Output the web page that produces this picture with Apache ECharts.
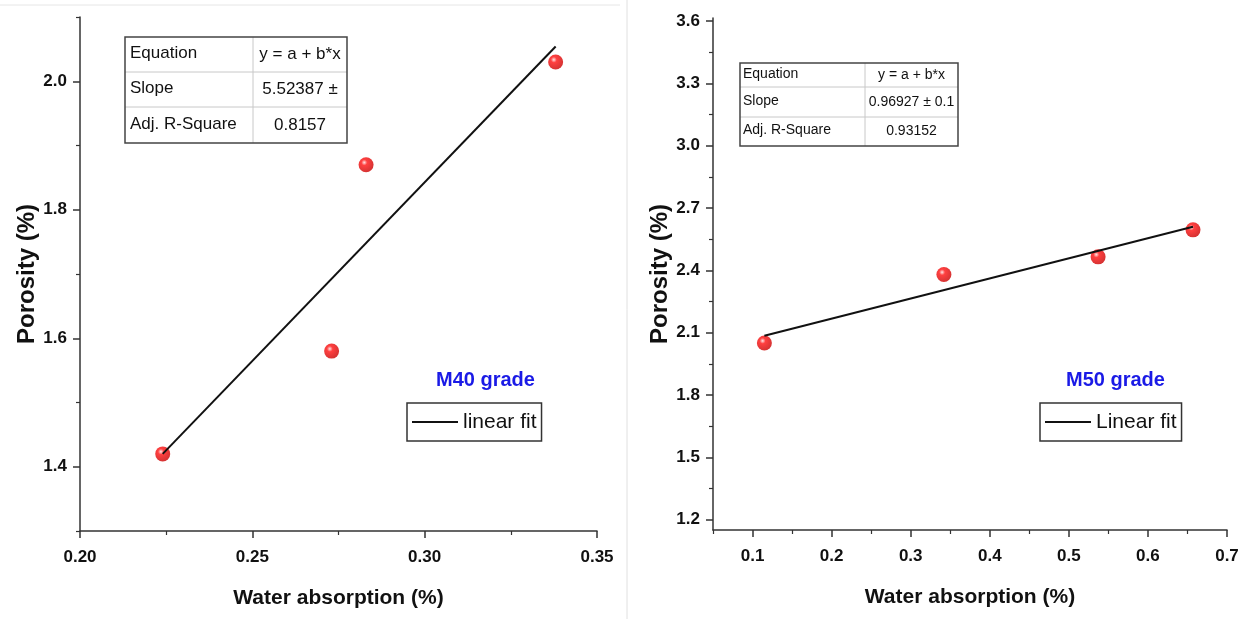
<!DOCTYPE html>
<html>
<head>
<meta charset="utf-8">
<script src="https://cdn.jsdelivr.net/npm/echarts@6/dist/echarts.min.js"></script>
<style>
html,body{margin:0;padding:0;background:#fff;}
#chart{width:1245px;height:619px;}
</style>
</head>
<body>
<div id="chart"></div>
<script>
// ---------- data ----------
const m40X = [0.224, 0.273, 0.283, 0.338];
const m40Y = [1.42, 1.58, 1.87, 2.03];
const m40FitX = [0.224, 0.338];
const m40FitY = [1.42, 2.054];

const m50X = [0.115, 0.342, 0.537, 0.657];
const m50Y = [2.05, 2.38, 2.465, 2.595];
const m50FitX = [0.115, 0.657];
const m50FitY = [2.085, 2.61];

const m40XRange = [0.20, 0.35];
const m40YRange = [1.30, 2.10];
const m50XRange = [0.05, 0.70];
const m50YRange = [1.15, 3.615];

const m40XTicks = [0.20, 0.25, 0.30, 0.35];
const m40XMinor = [0.225, 0.275, 0.325];
const m40YTicks = [1.4, 1.6, 1.8, 2.0];
const m40YMinor = [1.3, 1.5, 1.7, 1.9, 2.1];

const m50XTicks = [0.1, 0.2, 0.3, 0.4, 0.5, 0.6, 0.7];
const m50XMinor = [0.05, 0.15, 0.25, 0.35, 0.45, 0.55, 0.65];
const m50YTicks = [1.2, 1.5, 1.8, 2.1, 2.4, 2.7, 3.0, 3.3, 3.6];
const m50YMinor = [1.35, 1.65, 1.95, 2.25, 2.55, 2.85, 3.15, 3.45];

const tableRows = ['Equation', 'Slope', 'Adj. R-Square'];
const m40Table = ['y = a + b*x', '5.52387 ±', '0.8157'];
const m50Table = ['y = a + b*x', '0.96927 ± 0.1', '0.93152'];

const xName = 'Water absorption (%)';
const yName = 'Porosity (%)';
const m40Label = 'M40 grade';
const m50Label = 'M50 grade';
const m40FitName = 'linear fit';
const m50FitName = 'Linear fit';

// ---------- styling helpers ----------
const FONT = "'Liberation Sans', Arial, sans-serif";
const AXC = '#333';

function zip(a, b) { return a.map((v, i) => [v, b[i]]); }

function mainX(grid, range, ticks, dec) {
  return {
    type: 'value', gridIndex: grid, min: range[0], max: range[1],
    splitLine: {show: false},
    axisLine: {show: true, onZero: false, lineStyle: {color: AXC, width: 1.5}},
    axisTick: {show: true, length: 7, customValues: ticks, lineStyle: {color: AXC, width: 1.5}},
    axisLabel: {customValues: ticks, margin: 18, fontFamily: FONT, fontWeight: 'bold', fontSize: 17, color: '#111',
      formatter: v => Number(v).toFixed(dec)},
    name: xName, nameLocation: 'middle', nameGap: 57,
    nameTextStyle: {fontFamily: FONT, fontWeight: 'bold', fontSize: 21, color: '#111'}
  };
}
function mainY(grid, range, ticks, dec) {
  return {
    type: 'value', gridIndex: grid, min: range[0], max: range[1],
    splitLine: {show: false},
    axisLine: {show: true, onZero: false, lineStyle: {color: AXC, width: 1.5}},
    axisTick: {show: true, length: 7, customValues: ticks, lineStyle: {color: AXC, width: 1.5}},
    axisLabel: {customValues: ticks, margin: 13, fontFamily: FONT, fontWeight: 'bold', fontSize: 17, color: '#111',
      formatter: v => Number(v).toFixed(dec)},
    name: yName, nameLocation: 'middle', nameGap: 40, nameRotate: 90,
    nameTextStyle: {fontFamily: FONT, fontWeight: 'bold', fontSize: 24, color: '#111'}
  };
}
function minorAxis(grid, range, ticks) {
  return {
    type: 'value', gridIndex: grid, min: range[0], max: range[1],
    splitLine: {show: false},
    axisLine: {show: false, onZero: false},
    axisTick: {show: true, length: 4, customValues: ticks, lineStyle: {color: AXC, width: 1.2}},
    axisLabel: {show: false}
  };
}

const sphere = new echarts.graphic.RadialGradient(0.38, 0.35, 0.65, [
  {offset: 0, color: '#ffe0e0'},
  {offset: 0.3, color: '#ff1010'},
  {offset: 1, color: '#cc0000'}
]);

function table(x, y, colX, w, rowYs, h, labels, values, fs, pad) {
  const els = [];
  const yb = [y].concat(rowYs).concat([y + h]);
  for (let i = 0; i < labels.length; i++) {
    const cy = (yb[i] + yb[i + 1]) / 2;
    els.push({type: 'text', left: x + pad, top: cy - fs / 2 - 1,
      style: {text: labels[i], font: `${fs}px ${FONT}`, fill: '#111'}});
    els.push({type: 'text', x: (colX + x + w) / 2, y: cy,
      style: {text: values[i], font: `${fs}px ${FONT}`, fill: '#111', align: 'center', verticalAlign: 'middle'}});
  }
  rowYs.forEach(ry => els.push({type: 'line', shape: {x1: x, y1: ry, x2: x + w, y2: ry}, style: {stroke: '#c8c8c8', lineWidth: 1}}));
  els.push({type: 'line', shape: {x1: colX, y1: y, x2: colX, y2: y + h}, style: {stroke: '#c8c8c8', lineWidth: 1}});
  els.push({type: 'rect', shape: {x: x, y: y, width: w, height: h}, style: {fill: 'none', stroke: '#444', lineWidth: 1.5}});
  return els;
}

const legendBase = {
  orient: 'horizontal', icon: 'rect', itemWidth: 46, itemHeight: 2, itemGap: 0,
  borderColor: '#333', borderWidth: 1.5, padding: [8, 5, 8, 5],
  textStyle: {fontFamily: FONT, fontSize: 21, color: '#111', lineHeight: 22},
  selectedMode: false
};

const option = {
  backgroundColor: '#fff',
  animation: false,
  grid: [
    {left: 80, top: 17, width: 517, height: 514},
    {left: 80, top: 17, width: 517, height: 514},
    {left: 713, top: 18, width: 514, height: 512},
    {left: 713, top: 18, width: 514, height: 512}
  ],
  xAxis: [
    mainX(0, m40XRange, m40XTicks, 2),
    minorAxis(1, m40XRange, m40XMinor),
    mainX(2, m50XRange, m50XTicks, 1),
    minorAxis(3, m50XRange, m50XMinor)
  ],
  yAxis: [
    mainY(0, m40YRange, m40YTicks, 1),
    minorAxis(1, m40YRange, m40YMinor),
    mainY(2, m50YRange, m50YTicks, 1),
    minorAxis(3, m50YRange, m50YMinor)
  ],
  title: [
    {text: m40Label, left: 436, top: 370, padding: 0,
      textStyle: {fontFamily: FONT, fontWeight: 'bold', fontSize: 20, color: '#1a1ae6'}},
    {text: m50Label, left: 1066, top: 370, padding: 0,
      textStyle: {fontFamily: FONT, fontWeight: 'bold', fontSize: 20, color: '#1a1ae6'}}
  ],
  legend: [
    Object.assign({}, legendBase, {data: [m40FitName], left: 407, top: 403}),
    Object.assign({}, legendBase, {data: [m50FitName], left: 1040, top: 403})
  ],
  series: [
    {type: 'scatter', name: 'M40 data', xAxisIndex: 0, yAxisIndex: 0, z: 2,
      data: zip(m40X, m40Y), symbolSize: 15, itemStyle: {color: sphere}},
    {type: 'line', name: m40FitName, xAxisIndex: 0, yAxisIndex: 0, z: 3,
      data: zip(m40FitX, m40FitY), symbol: 'none', lineStyle: {color: '#111', width: 2}, itemStyle: {color: '#111'}},
    {type: 'scatter', name: 'M50 data', xAxisIndex: 2, yAxisIndex: 2, z: 2,
      data: zip(m50X, m50Y), symbolSize: 15, itemStyle: {color: sphere}},
    {type: 'line', name: m50FitName, xAxisIndex: 2, yAxisIndex: 2, z: 3,
      data: zip(m50FitX, m50FitY), symbol: 'none', lineStyle: {color: '#111', width: 2}, itemStyle: {color: '#111'}}
  ],
  graphic: [].concat(
    [
      {type: 'line', shape: {x1: 0, y1: 5, x2: 620, y2: 5}, style: {stroke: '#e6e6e6', lineWidth: 1}},
      {type: 'line', shape: {x1: 627, y1: 0, x2: 627, y2: 619}, style: {stroke: '#e0e0e0', lineWidth: 1}}
    ],
    table(125, 37, 253, 222, [72, 107], 106, tableRows, m40Table, 17, 5),
    table(740, 63, 865, 218, [87, 117], 83, tableRows, m50Table, 14, 3)
  )
};

const chart = echarts.init(document.getElementById('chart'), null, {renderer: 'canvas'});
chart.setOption(option);
</script>
</body>
</html>
